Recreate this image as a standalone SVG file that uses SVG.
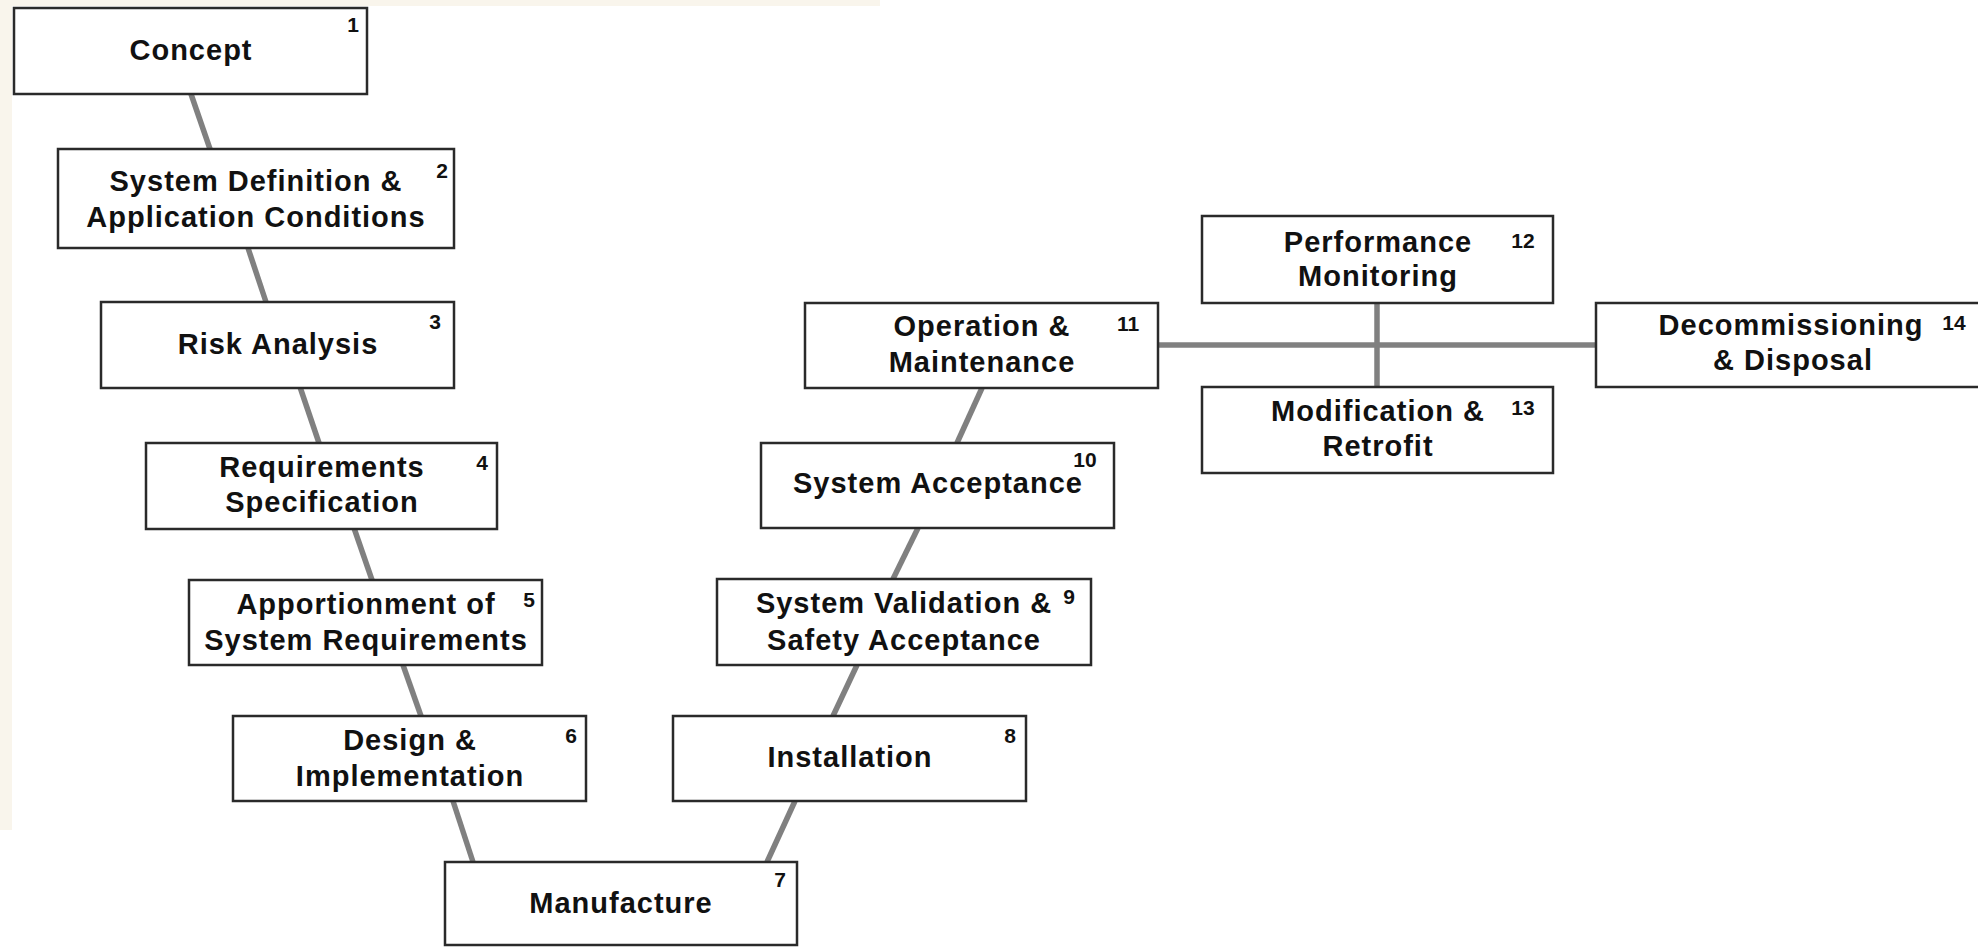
<svg xmlns="http://www.w3.org/2000/svg" width="1978" height="947" viewBox="0 0 1978 947">
<style>
.box{fill:#ffffff;stroke:#2a2a2a;stroke-width:2.5}
.lbl{font-family:"Liberation Sans",Arial,sans-serif;font-weight:bold;font-size:29px;letter-spacing:1px;fill:#111;text-anchor:middle}
.num{font-family:"Liberation Sans",Arial,sans-serif;font-weight:bold;font-size:21px;fill:#111;text-anchor:middle}
.con{stroke:#808080;stroke-width:5.5;fill:none}
</style>
<rect x="0" y="0" width="1978" height="947" fill="#ffffff"/>
<rect x="0" y="0" width="12" height="830" fill="#f9f5ec"/>
<rect x="0" y="0" width="880" height="6" fill="#f9f5ec"/>
<g id="connectors">
<line class="con" x1="191" y1="94" x2="210" y2="149"/>
<line class="con" x1="248" y1="248" x2="266" y2="302"/>
<line class="con" x1="300" y1="387" x2="319" y2="443"/>
<line class="con" x1="354" y1="528" x2="372" y2="580"/>
<line class="con" x1="403" y1="665" x2="421" y2="716"/>
<line class="con" x1="453" y1="801" x2="473" y2="862"/>
<line class="con" x1="767" y1="862" x2="795" y2="801"/>
<line class="con" x1="833" y1="716" x2="857" y2="665"/>
<line class="con" x1="893" y1="579" x2="918" y2="528"/>
<line class="con" x1="957" y1="443" x2="982" y2="388"/>
<line class="con" x1="1158" y1="345" x2="1596" y2="345" stroke-width="6"/>
<line class="con" x1="1377" y1="303" x2="1377" y2="387" stroke-width="6"/>
</g>
<g id="n1"><rect class="box" x="14" y="8" width="353" height="86"/><text class="lbl" x="191" y="60">Concept</text><text class="num" x="353" y="32">1</text></g>
<g id="n2"><rect class="box" x="58" y="149" width="396" height="99"/><text class="lbl" x="256" y="191">System Definition &amp;</text><text class="lbl" x="256" y="227">Application Conditions</text><text class="num" x="442" y="178">2</text></g>
<g id="n3"><rect class="box" x="101" y="302" width="353" height="86"/><text class="lbl" x="278" y="354">Risk Analysis</text><text class="num" x="435" y="329">3</text></g>
<g id="n4"><rect class="box" x="146" y="443" width="351" height="86"/><text class="lbl" x="322" y="477">Requirements</text><text class="lbl" x="322" y="512">Specification</text><text class="num" x="482" y="470">4</text></g>
<g id="n5"><rect class="box" x="189" y="580" width="353" height="85"/><text class="lbl" x="366" y="614">Apportionment of</text><text class="lbl" x="366" y="650">System Requirements</text><text class="num" x="529" y="607">5</text></g>
<g id="n6"><rect class="box" x="233" y="716" width="353" height="85"/><text class="lbl" x="410" y="750">Design &amp;</text><text class="lbl" x="410" y="786">Implementation</text><text class="num" x="571" y="743">6</text></g>
<g id="n7"><rect class="box" x="445" y="862" width="352" height="83"/><text class="lbl" x="621" y="913">Manufacture</text><text class="num" x="780" y="887">7</text></g>
<g id="n8"><rect class="box" x="673" y="716" width="353" height="85"/><text class="lbl" x="850" y="767">Installation</text><text class="num" x="1010" y="743">8</text></g>
<g id="n9"><rect class="box" x="717" y="579" width="374" height="86"/><text class="lbl" x="904" y="613">System Validation &amp;</text><text class="lbl" x="904" y="650">Safety Acceptance</text><text class="num" x="1069" y="604">9</text></g>
<g id="n10"><rect class="box" x="761" y="443" width="353" height="85"/><text class="lbl" x="938" y="493">System Acceptance</text><text class="num" x="1085" y="467">10</text></g>
<g id="n11"><rect class="box" x="805" y="303" width="353" height="85"/><text class="lbl" x="982" y="336">Operation &amp;</text><text class="lbl" x="982" y="372">Maintenance</text><text class="num" x="1128" y="331">11</text></g>
<g id="n12"><rect class="box" x="1202" y="216" width="351" height="87"/><text class="lbl" x="1378" y="252">Performance</text><text class="lbl" x="1378" y="286">Monitoring</text><text class="num" x="1523" y="248">12</text></g>
<g id="n13"><rect class="box" x="1202" y="387" width="351" height="86"/><text class="lbl" x="1378" y="421">Modification &amp;</text><text class="lbl" x="1378" y="456">Retrofit</text><text class="num" x="1523" y="415">13</text></g>
<g id="n14"><rect class="box" x="1596" y="303" width="394" height="84"/><text class="lbl" x="1791" y="335">Decommissioning</text><text class="lbl" x="1793" y="370">&amp; Disposal</text><text class="num" x="1954" y="330">14</text></g>
</svg>
